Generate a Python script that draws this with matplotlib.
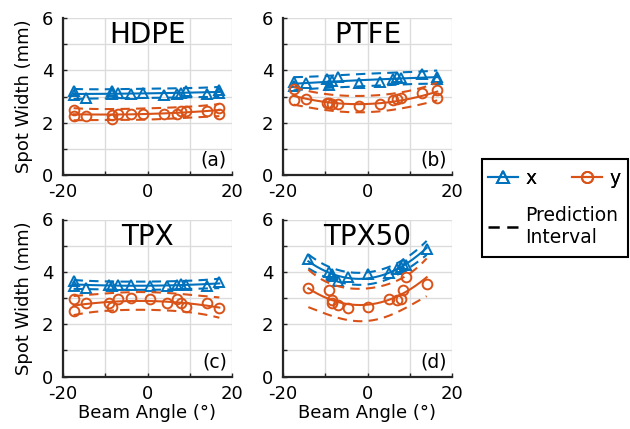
import numpy as np
import matplotlib
matplotlib.use('Agg')
import matplotlib.pyplot as plt
from matplotlib.lines import Line2D
from matplotlib.patches import Rectangle

# beam angles (deg) and spot widths (mm) for each material
hdpe_ang = [-17.5, -17.5, -14.5, -8.5, -8.5, -7, -4, -1, 4, 7, 8, 9, 14, 17, 17]
hdpe_x = [3.2, 3.05, 2.95, 3.2, 3.1, 3.15, 3.1, 3.15, 3.05, 3.1, 3.15, 3.2, 3.1, 3.25, 3.15]
hdpe_y = [2.5, 2.25, 2.25, 2.3, 2.15, 2.35, 2.35, 2.35, 2.35, 2.35, 2.45, 2.45, 2.45, 2.55, 2.35]

ptfe_ang = [-17.5, -17.5, -14.5, -9.5, -9, -8.5, -7, -2, 3, 6, 7, 8, 13, 16.5, 16.5]
ptfe_x = [3.55, 3.4, 3.5, 3.65, 3.45, 3.6, 3.75, 3.5, 3.55, 3.65, 3.75, 3.7, 3.85, 3.75, 3.65]
ptfe_y = [3.3, 2.85, 2.9, 2.75, 2.75, 2.7, 2.7, 2.65, 2.7, 2.85, 2.9, 2.95, 3.15, 3.25, 2.95]

tpx_ang = [-17.5, -17.5, -14.5, -9, -8.5, -7, -4, 0.5, 4.5, 7, 8, 9, 14, 17]
tpx_x = [3.65, 3.45, 3.4, 3.5, 3.45, 3.5, 3.5, 3.45, 3.45, 3.5, 3.55, 3.5, 3.45, 3.6]
tpx_y = [2.95, 2.5, 2.8, 2.8, 2.65, 2.95, 3.0, 2.95, 2.8, 2.95, 2.8, 2.65, 2.8, 2.6]

tpx50_ang = [-14, -9, -8.5, -8.5, -7, -4.5, 0, 5, 7, 8, 8.5, 9, 14]
tpx50_x = [4.5, 4.0, 3.9, 3.85, 3.65, 3.8, 3.9, 3.95, 4.1, 4.2, 4.3, 4.25, 4.88]
tpx50_y = [3.37, 3.3, 2.93, 2.8, 2.72, 2.6, 2.65, 2.95, 2.93, 2.95, 3.3, 3.8, 3.55]

panels = [
    ('HDPE', '(a)', hdpe_ang, hdpe_x, hdpe_y),
    ('PTFE', '(b)', ptfe_ang, ptfe_x, ptfe_y),
    ('TPX', '(c)', tpx_ang, tpx_x, tpx_y),
    ('TPX50', '(d)', tpx50_ang, tpx50_x, tpx50_y),
]

BLUE = '#0072BD'
ORANGE = '#D95319'
DASH = (0, (4.5, 3))

# two-sided 95% student t values by degrees of freedom
T95 = {8: 2.306, 9: 2.262, 10: 2.228, 11: 2.201, 12: 2.179, 13: 2.160}

plt.rcParams['font.family'] = ['DejaVu Sans']
plt.rcParams['font.size'] = 13


def fit_pi(x, y):
    '''quadratic fit and 95% prediction interval'''
    x = np.asarray(x, float)
    y = np.asarray(y, float)
    p = np.polyfit(x, y, 2)
    X = np.vander(x, 3)
    res = y - X @ p
    dof = len(x) - 3
    s = np.sqrt(np.sum(res ** 2) / dof)
    xx = np.linspace(x.min(), x.max(), 200)
    XX = np.vander(xx, 3)
    cov = np.linalg.inv(X.T @ X)
    h = np.einsum('ij,jk,ik->i', XX, cov, XX)
    delta = T95[dof] * s * np.sqrt(1 + h)
    yy = XX @ p
    return xx, yy, delta


fig = plt.figure(figsize=(6.3, 4.29), dpi=100)
W, H = 630, 429
pos = [(63, 175), (283, 175), (63, 376.5), (283, 376.5)]

for i, (name, tag, ang, sx, sy) in enumerate(panels):
    left, bottom = pos[i]
    ax = fig.add_axes([left / W, 1 - bottom / H, 169 / W, 157 / H])
    for vals, col, mk in [(sx, BLUE, '^'), (sy, ORANGE, 'o')]:
        xx, yy, d = fit_pi(ang, vals)
        ax.plot(xx, yy, color=col, lw=1.5)
        ax.plot(xx, yy + d, color=col, lw=1.5, ls=DASH)
        ax.plot(xx, yy - d, color=col, lw=1.5, ls=DASH)
        ax.plot(ang, vals, ls='none', marker=mk, ms=7, mfc='none',
                mec=col, mew=1.4)
    ax.set_xlim(-20, 20)
    ax.set_ylim(0, 6)
    ax.set_xticks([-20, -10, 0, 10, 20])
    ax.set_xticklabels(['-20', '', '0', '', '20'])
    ax.set_yticks(range(7))
    ax.set_yticklabels(['0', '', '2', '', '4', '', '6'])
    ax.grid(True, color='#dcdcdc', lw=1)
    ax.set_axisbelow(True)
    for sp in ['top', 'right']:
        ax.spines[sp].set_visible(False)
    for sp in ['left', 'bottom']:
        ax.spines[sp].set_color('#262626')
        ax.spines[sp].set_linewidth(1.6)
    ax.tick_params(direction='in', length=3, width=1, colors='#262626',
                   labelcolor='black', labelsize=13)
    ax.tick_params(axis='x', pad=6)
    ax.tick_params(axis='y', pad=7)
    ax.text(0.5, 0.89, name, transform=ax.transAxes, ha='center',
            va='center', fontsize=20)
    ax.text(0.97, 0.035, tag, transform=ax.transAxes, ha='right',
            va='bottom', fontsize=13.5)
    if i % 2 == 0:
        ax.set_ylabel('Spot Width (mm)', fontsize=13, labelpad=6)
    if i >= 2:
        ax.set_xlabel('Beam Angle (°)', fontsize=13, labelpad=1)

# legend
hx = Line2D([], [], color=BLUE, lw=1.5, marker='^', ms=8, mfc='none', mew=1.4)
hy = Line2D([], [], color=ORANGE, lw=1.5, marker='o', ms=8, mfc='none', mew=1.4)
hp = Line2D([], [], color='black', lw=1.8, ls=DASH)
leg1 = fig.legend([hx, hy], ['x', 'y'], ncol=2, loc='upper left',
                  bbox_to_anchor=(488 / W, 1 - 169 / H), frameon=False,
                  fontsize=13.5, handlelength=1.6, handletextpad=0.4,
                  columnspacing=1.9, borderpad=0, borderaxespad=0)
leg2 = fig.legend([hp], ['Prediction\nInterval'], loc='upper left',
                  bbox_to_anchor=(488 / W, 1 - 206 / H), frameon=False,
                  fontsize=13.5, handlelength=1.6, handletextpad=0.4,
                  borderpad=0, borderaxespad=0)
fig.add_artist(leg1)
fig.patches.append(Rectangle((482 / W, 1 - 257 / H), 146 / W, 98 / H,
                             transform=fig.transFigure, fill=False,
                             ec='black', lw=1.5))

fig.savefig('out.png', dpi=100)
